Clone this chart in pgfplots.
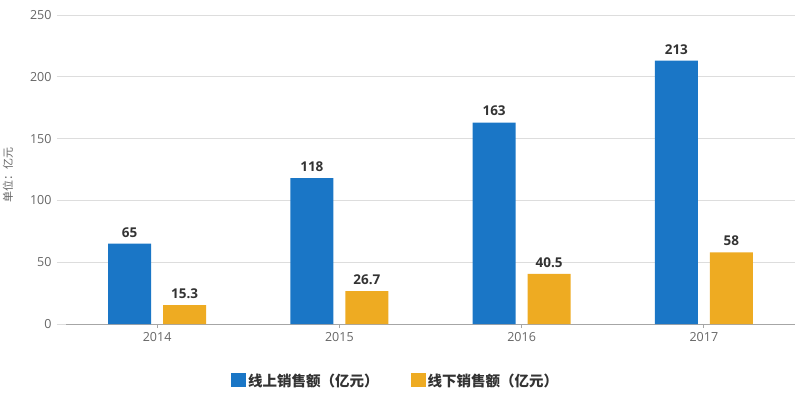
\documentclass[border=0pt]{standalone}
\usepackage{pgfplots}
\pgfplotsset{compat=1.18}
\usepackage{fontspec}
\setmainfont{Open Sans}
\newfontfamily\cjk{Noto Sans CJK SC}
\definecolor{cblue}{HTML}{1A76C6}
\definecolor{corange}{HTML}{EEAB22}
\definecolor{gridc}{HTML}{DDDDDD}
\definecolor{tickc}{HTML}{666666}
\definecolor{labc}{HTML}{333333}
\begin{document}
\begin{tikzpicture}
\path[use as bounding box] (-66pt,-68pt) rectangle (734pt,324pt);
\begin{axis}[
  at={(0pt,0pt)}, anchor=south west,
  scale only axis, width=729pt, height=309pt,
  xmin=-0.5, xmax=3.5, ymin=0, ymax=250,
  ybar, bar width=43pt,
  xtick=data, xticklabels={2014,2015,2016,2017},
  ytick={0,50,100,150,200,250},
  /pgf/number format/assume math mode=true,
  ymajorgrids, grid style={gridc, line width=0.8pt},
  axis x line*=bottom, axis y line*=left,
  y axis line style={draw=none},
  x axis line style={draw=gray!70, line width=1pt, -},
  every tick label/.append style={font=\fontsize{12.5}{14}\selectfont, text=tickc},
  ytick style={draw=none},
  xtick style={draw=gray!70, line width=0.8pt},
  major tick length=4pt,
  tick align=outside,
  yticklabel style={xshift=-7pt},
  xticklabel style={yshift=-1pt},
  ylabel={\cjk 单位：亿元},
  ylabel style={at={(axis description cs:-0.0796,0.482)}, anchor=center, font=\fontsize{11}{13}\selectfont, text=tickc},
  nodes near coords,
  every node near coord/.append style={font=\bfseries\fontsize{13.5}{15}\selectfont, text=labc, yshift=3pt},
  point meta=explicit symbolic,
  legend style={at={(0.452,-0.184)}, anchor=center, draw=none, legend columns=2, font=\cjk\bfseries\fontsize{14.5}{16}\selectfont, text=labc, /tikz/every even column/.append style={column sep=30pt}},
  legend image code/.code={\fill[#1] (0pt,-6pt) rectangle (15pt,8pt);},
  clip=false,
]
\pgfplotsinvokeforeach{0,50,100,150,200,250}{
  \draw[gridc, line width=0.8pt] ([xshift=-9pt]axis cs:-0.5,#1) -- (axis cs:-0.5,#1);
}
\addplot[fill=cblue, draw=none, bar shift=-27.5pt] coordinates {(0,65)[65] (1,118)[118] (2,163)[163] (3,213)[213]};
\addplot[fill=corange, draw=none, bar shift=27.5pt] coordinates {(0,15.3)[15.3] (1,26.7)[26.7] (2,40.5)[40.5] (3,58)[58]};
\legend{线上销售额（亿元）,线下销售额（亿元）}
\end{axis}
\end{tikzpicture}
\end{document}
